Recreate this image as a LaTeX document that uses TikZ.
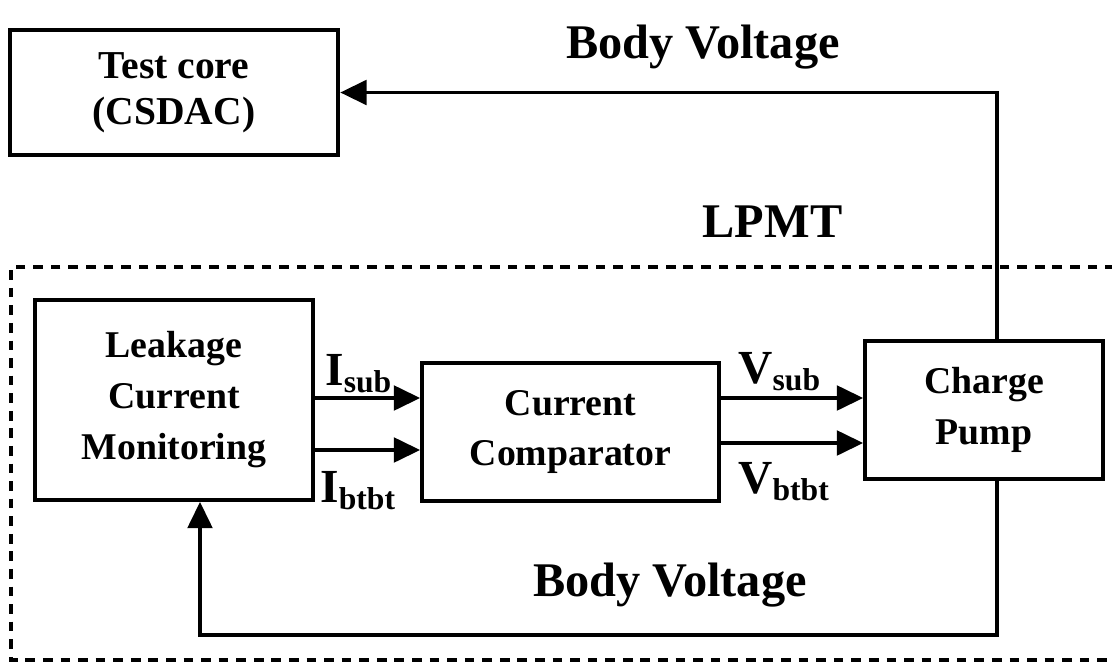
\documentclass[tikz,border=0pt]{standalone}
\usepackage{fontspec}
\setmainfont{Liberation Serif}
\usetikzlibrary{arrows.meta}
\newcommand{\sig}[2]{#1\raisebox{-4.5pt}{\fontsize{18}{18}\selectfont #2}}
\begin{document}
\begin{tikzpicture}[>={Triangle[length=15pt,width=14pt]}]

% --- Styles ---
\tikzset{
    block/.style={draw, line width=2.1pt, align=center, inner sep=0pt,
        font=\fontsize{21.5}{29}\selectfont\bfseries},
    core/.style={block, line width=2.6pt, font=\fontsize{22.5}{26}\selectfont\bfseries},
    title/.style={font=\fontsize{27.5}{27.5}\selectfont\bfseries},
    siglabel/.style={anchor=base west, inner sep=0pt, font=\fontsize{27}{27}\selectfont\bfseries},
    wire/.style={->, line width=2.1pt},
    frame/.style={line width=2pt, dash pattern=on 5.5pt off 4.5pt}
}

    \useasboundingbox (0,0) rectangle (22.24,-13.24);

    % Test core
    \node[core, minimum width=6.56cm, minimum height=2.5cm] (tc) at (3.48,-1.85)
        {Test core\\(CSDAC)};
    \node[title] (bvtop) at (14.06,-0.94) {Body Voltage};

    % LPMT
    \draw[frame] (23,-5.34) -- (0.22,-5.34) -- (0.22,-13.2) -- (23,-13.2);
    \node[title] (lpmt) at (15.45,-4.44) {LPMT};

    \node[block, minimum width=5.56cm, minimum height=4.0cm] (lcm) at (3.48,-8.0)
        {Leakage\\Current\\Monitoring};
    \node[block, minimum width=5.94cm, minimum height=2.76cm] (cc) at (11.41,-8.64)
        {Current\\Comparator};
    \node[block, minimum width=4.76cm, minimum height=2.76cm] (cp) at (19.68,-8.2)
        {Charge\\Pump};

    \coordinate (ysub) at (0,-7.96);
    \coordinate (yibt) at (0,-9.0);
    \coordinate (yvbt) at (0,-8.86);
    \coordinate (xfb) at (19.94,0);
    \coordinate (fbl) at (4.0,-12.7);

    % Signals
    \draw[wire] (lcm.east |- ysub) -- (cc.west |- ysub);
    \draw[wire] (lcm.east |- yibt) -- (cc.west |- yibt);
    \draw[wire] (cc.east |- ysub) -- (cp.west |- ysub);
    \draw[wire] (cc.east |- yvbt) -- (cp.west |- yvbt);
    \node[siglabel] (isub) at (6.5,-7.7) {\sig{I}{sub}};
    \node[siglabel] (ibtbt) at (6.4,-10.04) {\sig{I}{btbt}};
    \node[siglabel] (vsub) at (14.76,-7.66) {\sig{V}{sub}};
    \node[siglabel] (vbtbt) at (14.76,-9.86) {\sig{V}{btbt}};

    % Body voltage feedback
    \draw[wire] (cp.north -| xfb) |- (tc.east);
    \draw[wire] (cp.south -| xfb) |- (fbl) -- (fbl |- lcm.south);
    \node[title] (bvbot) at (13.4,-11.7) {Body Voltage};

\end{tikzpicture}
\end{document}
